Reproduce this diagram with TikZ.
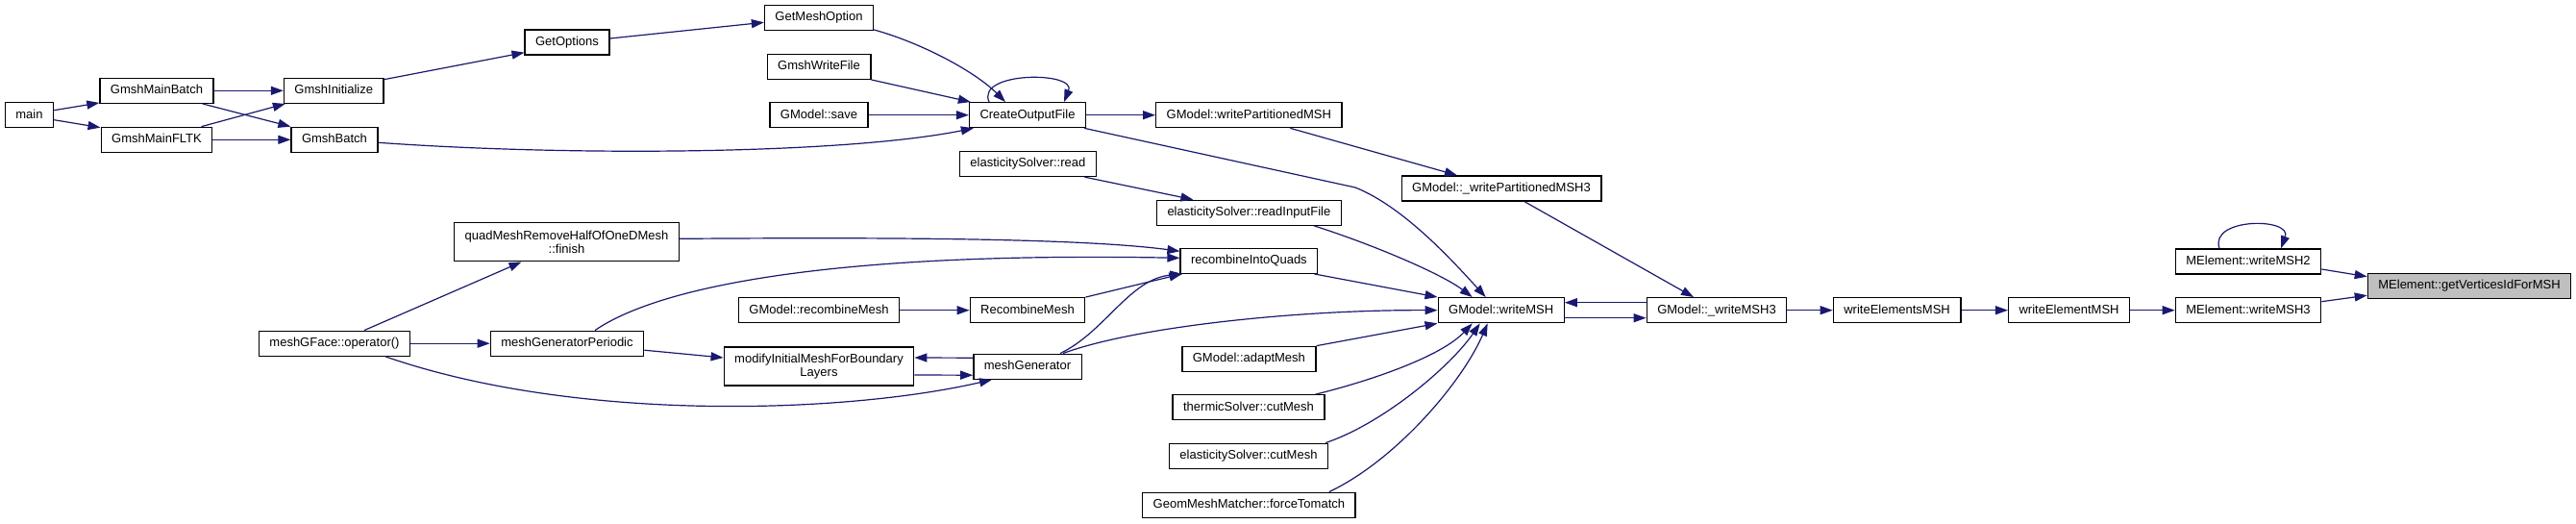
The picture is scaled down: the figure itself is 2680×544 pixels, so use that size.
\documentclass[tikz,border=0pt]{standalone}
\usepackage{fontspec}
\setmainfont{Liberation Sans}
\usepackage{xcolor}
\usetikzlibrary{arrows.meta}
\definecolor{edgeblue}{HTML}{191970}
\definecolor{focusgray}{HTML}{BFBFBF}
\newcommand{\fnfont}{\fontsize{13}{14.3}\selectfont}

\begin{document}
\begin{tikzpicture}[x=1pt, y=-1pt,
  fnbase/.style={draw=black, line width=1.3pt, fill=white, font=\fnfont, inner xsep=11pt, inner ysep=0pt},
  fn/.style={fnbase, minimum height=26pt, text height=9.4pt, text depth=2.8pt},
  fntwo/.style={fnbase, minimum height=40pt, align=center},
  call/.style={draw=edgeblue, line width=1.2pt, -{Triangle[length=13pt, width=9pt]}}]
\fill[white] (0,0) rectangle (2680,544);
\useasboundingbox (0,0) rectangle (2680,544);

\node[fn] (main) at (30.5,119.7) {main};
\node[fn] (mainbatch) at (163,94.3) {GmshMainBatch};
\node[fn] (mainfltk) at (163,145.3) {GmshMainFLTK};
\node[fn] (init) at (347.3,94.3) {GmshInitialize};
\node[fn] (batch) at (348,145.3) {GmshBatch};
\node[fn] (getopt) at (590,44) {GetOptions};
\node[fn] (meshopt) at (852,18.3) {GetMeshOption};
\node[fn] (writefile) at (852,69.3) {GmshWriteFile};
\node[fn] (save) at (852,119.7) {GModel::save};
\node[fntwo] (quadfinish) at (589.5,251.8) {quadMeshRemoveHalfOfOneDMesh\\::finish};
\node[fn] (gface) at (348,357.2) {meshGFace::operator()};
\node[fn] (periodic) at (590,357.2) {meshGeneratorPeriodic};
\node[fn] (recombmodel) at (852,322.7) {GModel::recombineMesh};
\node[fntwo] (modifybl) at (852,381) {modifyInitialMeshForBoundary\\Layers};
\node[fn] (output) at (1069,119.7) {CreateOutputFile};
\node[fn] (esread) at (1069.4,170.5) {elasticitySolver::read};
\node[fn] (recombmesh) at (1069,322.7) {RecombineMesh};
\node[fn] (meshgen) at (1069,381.2) {meshGenerator};
\node[fn] (partmsh) at (1299.3,119.7) {GModel::writePartitionedMSH};
\node[fn] (readinput) at (1299.4,221.3) {elasticitySolver::readInputFile};
\node[fn] (quads) at (1299.4,271.3) {recombineIntoQuads};
\node[fn] (adapt) at (1299.4,373.3) {GModel::adaptMesh};
\node[fn] (thermic) at (1299,423.8) {thermicSolver::cutMesh};
\node[fn] (escut) at (1299,474.2) {elasticitySolver::cutMesh};
\node[fn] (matcher) at (1299.4,525.2) {GeomMeshMatcher::forceTomatch};
\node[fn] (partmsh3) at (1562,196) {GModel::\_writePartitionedMSH3};
\node[fn] (writemsh) at (1561.7,322.7) {GModel::writeMSH};
\node[fn] (msh3) at (1786,322.7) {GModel::\_writeMSH3};
\node[fn] (elemsmsh) at (1973.6,322.7) {writeElementsMSH};
\node[fn] (elemmsh) at (2152.6,322.7) {writeElementMSH};
\node[fn] (emsh3) at (2339,322.7) {MElement::writeMSH3};
\node[fn] (emsh2) at (2339,272) {MElement::writeMSH2};
\node[fn, fill=focusgray] (target) at (2569,297.2) {MElement::getVerticesIdForMSH};

\draw[call] ([yshift=5pt]main.east) -- ([yshift=1pt]mainbatch.south west);
\draw[call] ([yshift=-5pt]main.east) -- ([yshift=-1pt]mainfltk.north west);
\draw[call] (mainbatch) -- (init);
\draw[call] ([xshift=-12pt]mainbatch.south east) -- (batch.north west);
\draw[call] ([xshift=-12pt]mainfltk.north east) -- ([xshift=2pt]init.south west);
\draw[call] (mainfltk) -- (batch);
\draw[call] ([yshift=-2pt]init.north east) -- ([yshift=3pt]getopt.south west);
\draw[call] ([yshift=4pt]getopt.east) -- ([yshift=-5pt]meshopt.west);
\draw[call] ([yshift=1pt]meshopt.south east) .. controls (960,45) and (1015,75) .. ([xshift=-23pt]output.north);
\draw[call] (writefile.south east) -- ([xshift=2pt]output.north west);
\draw[call] (save) -- (output);
\draw[call] ([yshift=-3pt]batch.east) .. controls (600,163) and (880,160) .. ([xshift=5pt]output.south west);
\draw[call] ([xshift=-40pt]output.north) .. controls (1015,74) and (1120,74) .. ([xshift=38pt]output.north);
\draw[call] (output) -- (partmsh);
\draw[call] ([xshift=-2pt]output.south east) -- (1410,195) .. controls (1460,215) and (1510,270) .. ([xshift=-16pt]writemsh.north);
\draw[call] ([xshift=43pt]partmsh.south) -- ([xshift=-46pt]partmsh3.north);
\draw[call] ([xshift=24pt]partmsh3.south) -- ([xshift=-24pt]msh3.north);
\draw[call] ([xshift=59pt]esread.south) -- ([xshift=-58pt]readinput.north);
\draw[call] ([xshift=68pt]readinput.south) .. controls (1430,255) and (1500,285) .. ([xshift=-30pt]writemsh.north);
\draw[call] ([yshift=3.5pt]quadfinish.east) .. controls (900,247) and (1120,247) .. ([yshift=10pt]quads.west);
\draw[call] ([xshift=29pt]periodic.north) .. controls (690,295) and (880,262) .. ([yshift=3pt]quads.west);
\draw[call] ([xshift=31pt]gface.north) -- ([xshift=-47pt]quadfinish.south);
\draw[call] (gface) -- (periodic);
\draw[call] ([xshift=53pt]gface.south) .. controls (600,440) and (880,430) .. ([xshift=-37pt]meshgen.south);
\draw[call] ([yshift=-7pt]periodic.east) -- ([yshift=9pt]modifybl.west);
\draw[call] ([yshift=9pt]meshgen.west) -- ([yshift=9pt]modifybl.east);
\draw[call] ([yshift=-9pt]modifybl.east) -- ([yshift=-9pt]meshgen.west);
\draw[call] (recombmodel) -- (recombmesh);
\draw[call] (recombmesh.north east) -- ([xshift=2pt]quads.south west);
\draw[call] ([xshift=34pt]meshgen.north) .. controls (1150,345) and (1175,290) .. ([xshift=3pt]quads.south west);
\draw[call] ([xshift=-4pt]quads.south east) -- (writemsh.north west);
\draw[call] ([xshift=37pt]meshgen.north) .. controls (1180,340) and (1350,322) .. (writemsh.west);
\draw[call] (adapt.north east) -- (writemsh.south west);
\draw[call] ([xshift=-10pt]thermic.north east) .. controls (1430,395) and (1500,370) .. ([xshift=-30pt]writemsh.south);
\draw[call] ([xshift=-3pt]escut.north east) .. controls (1440,440) and (1510,380) .. ([xshift=-22pt]writemsh.south);
\draw[call] ([xshift=-28pt]matcher.north east) .. controls (1450,480) and (1520,400) .. ([xshift=-14pt]writemsh.south);
\draw[call] ([yshift=8pt]msh3.west) -- ([yshift=8pt]writemsh.east);
\draw[call] ([yshift=-8pt]writemsh.east) -- ([yshift=-8pt]msh3.west);
\draw[call] (msh3) -- (elemsmsh);
\draw[call] (elemsmsh) -- (elemmsh);
\draw[call] (elemmsh) -- (emsh3);
\draw[call] ([yshift=9pt]emsh3.east) -- ([yshift=-10pt]target.west);
\draw[call] ([yshift=-8pt]emsh2.east) -- ([yshift=9.5pt]target.west);
\draw[call] ([xshift=-30pt]emsh2.north) .. controls (2298,226) and (2385,226) .. ([xshift=34pt]emsh2.north);
\end{tikzpicture}
\end{document}
